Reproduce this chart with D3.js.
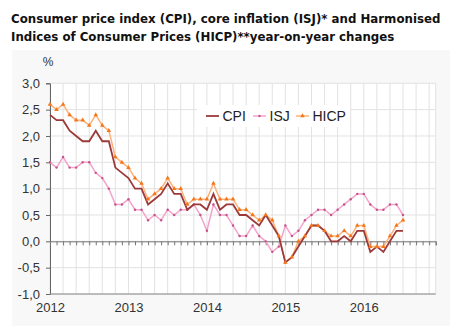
<!DOCTYPE html>
<html>
<head>
<meta charset="utf-8">
<script src="https://cdn.jsdelivr.net/npm/d3@7"></script>
<style>
  body { margin: 0; background: #fff; }
  svg { display: block; }
  .tick text { font-family: "Liberation Sans", Arial, sans-serif; }
</style>
</head>
<body>
<div id="chart"></div>
<script>
// monthly values, Jan 2012 -> Jul 2016
var cpi = [2.4, 2.3, 2.3, 2.1, 2.0, 1.9, 1.9, 2.1, 1.9, 1.9, 1.4, 1.3,
           1.2, 1.0, 1.0, 0.7, 0.8, 0.9, 1.1, 0.9, 0.9, 0.6, 0.7, 0.7,
           0.6, 0.9, 0.6, 0.7, 0.7, 0.5, 0.5, 0.4, 0.3, 0.5, 0.3, 0.1,
           -0.4, -0.3, -0.1, 0.1, 0.3, 0.3, 0.2, 0.0, 0.0, 0.1, 0.0, 0.2,
           0.2, -0.2, -0.1, -0.2, 0.0, 0.2, 0.2];
var isj = [1.5, 1.4, 1.6, 1.4, 1.4, 1.5, 1.5, 1.3, 1.2, 1.0, 0.7, 0.7,
           0.8, 0.6, 0.6, 0.4, 0.5, 0.4, 0.6, 0.5, 0.6, 0.6, 0.7, 0.5,
           0.2, 0.7, 0.5, 0.5, 0.3, 0.1, 0.1, 0.3, 0.1, 0.0, -0.2, -0.1,
           0.3, 0.1, 0.2, 0.4, 0.5, 0.6, 0.6, 0.5, 0.6, 0.7, 0.8, 0.9,
           0.9, 0.7, 0.6, 0.6, 0.7, 0.7, 0.5];
var hicp = [2.6, 2.5, 2.6, 2.4, 2.3, 2.3, 2.2, 2.4, 2.2, 2.1, 1.6, 1.5,
            1.4, 1.2, 1.1, 0.8, 0.9, 1.0, 1.2, 1.0, 1.0, 0.7, 0.8, 0.8,
            0.8, 1.1, 0.8, 0.8, 0.8, 0.6, 0.6, 0.5, 0.4, 0.5, 0.4, 0.1,
            -0.4, -0.3, 0.0, 0.1, 0.3, 0.3, 0.2, 0.1, 0.1, 0.2, 0.1, 0.3,
            0.3, -0.1, -0.1, -0.1, 0.1, 0.3, 0.4];
var years = [2012, 2013, 2014, 2015, 2016];
var yTicks = [-1.0, -0.5, 0.0, 0.5, 1.0, 1.5, 2.0, 2.5, 3.0];
var seriesNames = ["CPI", "ISJ", "HICP"];

var width = 450, height = 326;

var svg = d3.select("#chart").append("svg")
    .attr("width", width)
    .attr("height", height);

// title (font size fitted so line 1 spans ~430px like the original)
var title = svg.append("text")
    .attr("font-family", "DejaVu Sans Condensed, DejaVu Sans, Verdana, sans-serif")
    .attr("font-weight", "bold")
    .attr("font-size", "12px")
    .attr("fill", "#111");
var t1 = title.append("tspan").attr("x", 11).attr("y", 23)
    .text("Consumer price index (CPI), core inflation (ISJ)* and Harmonised");
title.append("tspan").attr("x", 11).attr("y", 40.5)
    .text("Indices of Consumer Prices (HICP)**year-on-year changes");
var len = t1.node().getComputedTextLength();
title.attr("font-size", Math.min(13.2, 12 * 430 / len) + "px");

// panel
svg.append("rect")
    .attr("x", 12).attr("y", 50)
    .attr("width", width - 12).attr("height", height - 50)
    .attr("fill", "#f8f8f8");

var x = d3.scaleLinear().domain([0, 59]).range([50, 435.7]);
var y = d3.scaleLinear().domain([-1, 3]).range([294, 83.3]);

svg.append("rect")
    .attr("x", x(0)).attr("y", y(3))
    .attr("width", x(59) - x(0)).attr("height", y(-1) - y(3))
    .attr("fill", "#fff");

// grid
var vgrid = d3.range(0, 60, 2).concat([59]);
svg.append("g").selectAll("line")
    .data(vgrid)
    .enter().append("line")
    .attr("x1", function(d) { return x(d); })
    .attr("x2", function(d) { return x(d); })
    .attr("y1", y(3)).attr("y2", y(-1))
    .attr("stroke", "#e2e2e2");
svg.append("g").selectAll("line")
    .data(yTicks)
    .enter().append("line")
    .attr("x1", x(0)).attr("x2", x(59))
    .attr("y1", function(d) { return y(d); })
    .attr("y2", function(d) { return y(d); })
    .attr("stroke", "#e2e2e2");

// y axis
var yAxis = d3.axisLeft(y)
    .tickValues(yTicks)
    .tickSize(4)
    .tickPadding(6)
    .tickFormat(function(d) { return d3.format(".1f")(d).replace(".", ",").replace("\u2212", "-"); });
var gy = svg.append("g")
    .attr("transform", "translate(" + x(0) + ",0)")
    .call(yAxis);
gy.select(".domain").attr("stroke", "#666");
gy.selectAll(".tick line").attr("stroke", "#666");
gy.selectAll(".tick text").attr("font-size", "13px").attr("fill", "#333");

svg.append("text")
    .attr("x", 48).attr("y", 66)
    .attr("text-anchor", "middle")
    .attr("font-family", "Liberation Sans, Arial, sans-serif")
    .attr("font-size", "12px")
    .attr("fill", "#333")
    .text("%");

// bottom line
svg.append("line")
    .attr("x1", x(0)).attr("x2", x(59))
    .attr("y1", y(-1)).attr("y2", y(-1))
    .attr("stroke", "#888");

// x axis labels
var xAxis = d3.axisBottom(x)
    .tickValues(years.map(function(d, i) { return i * 12; }))
    .tickSize(0)
    .tickPadding(9)
    .tickFormat(function(d) { return years[d / 12]; });
var gx = svg.append("g")
    .attr("transform", "translate(0," + y(-1) + ")")
    .call(xAxis);
gx.select(".domain").remove();
gx.selectAll(".tick text").attr("font-size", "13px").attr("fill", "#333");

// zero line with monthly ticks
var zeroAxis = d3.axisBottom(x)
    .tickValues(d3.range(0, 60))
    .tickSize(4)
    .tickFormat("");
var gz = svg.append("g")
    .attr("transform", "translate(0," + y(0) + ")")
    .call(zeroAxis);
gz.select(".domain").attr("stroke", "#777");
gz.selectAll(".tick line").attr("stroke", "#777");

var line = d3.line()
    .x(function(d, i) { return x(i); })
    .y(function(d) { return y(d); });

// ISJ
svg.append("path")
    .datum(isj)
    .attr("fill", "none")
    .attr("stroke", "#f5a3cc")
    .attr("stroke-width", 1.5)
    .attr("d", line);
svg.append("g").selectAll("circle")
    .data(isj)
    .enter().append("circle")
    .attr("cx", function(d, i) { return x(i); })
    .attr("cy", function(d) { return y(d); })
    .attr("r", 1.2)
    .attr("fill", "#c4538a");

// HICP
svg.append("path")
    .datum(hicp)
    .attr("fill", "none")
    .attr("stroke", "#fdb27a")
    .attr("stroke-width", 1.5)
    .attr("d", line);

// CPI
svg.append("path")
    .datum(cpi)
    .attr("fill", "none")
    .attr("stroke", "#9c3a3a")
    .attr("stroke-width", 1.8)
    .attr("d", line);

var tri = d3.symbol().type(d3.symbolTriangle).size(9);
svg.append("g").selectAll("path")
    .data(hicp)
    .enter().append("path")
    .attr("d", tri)
    .attr("transform", function(d, i) { return "translate(" + x(i) + "," + y(d) + ")"; })
    .attr("fill", "#f5761a");

// legend
var legend = svg.append("g");
legend.append("rect")
    .attr("x", 197).attr("y", 105)
    .attr("width", 153).attr("height", 22)
    .attr("fill", "#fff");

var legX = [206, 253, 296];
var legColors = ["#9c3a3a", "#f5a3cc", "#fdb27a"];
seriesNames.forEach(function(name, i) {
    legend.append("line")
        .attr("x1", legX[i]).attr("x2", legX[i] + 13)
        .attr("y1", 116).attr("y2", 116)
        .attr("stroke", legColors[i])
        .attr("stroke-width", i === 0 ? 1.8 : 1.5);
    if (i === 1) {
        legend.append("circle")
            .attr("cx", legX[i] + 6.5).attr("cy", 116).attr("r", 1.2)
            .attr("fill", "#c4538a");
    }
    if (i === 2) {
        legend.append("path")
            .attr("d", tri)
            .attr("transform", "translate(" + (legX[i] + 6.5) + ",116)")
            .attr("fill", "#f5761a");
    }
    legend.append("text")
        .attr("x", legX[i] + 16.5).attr("y", 121)
        .attr("font-family", "Liberation Sans, Arial, sans-serif")
        .attr("font-size", "14px")
        .attr("fill", "#222")
        .text(name);
});
</script>
</body>
</html>
